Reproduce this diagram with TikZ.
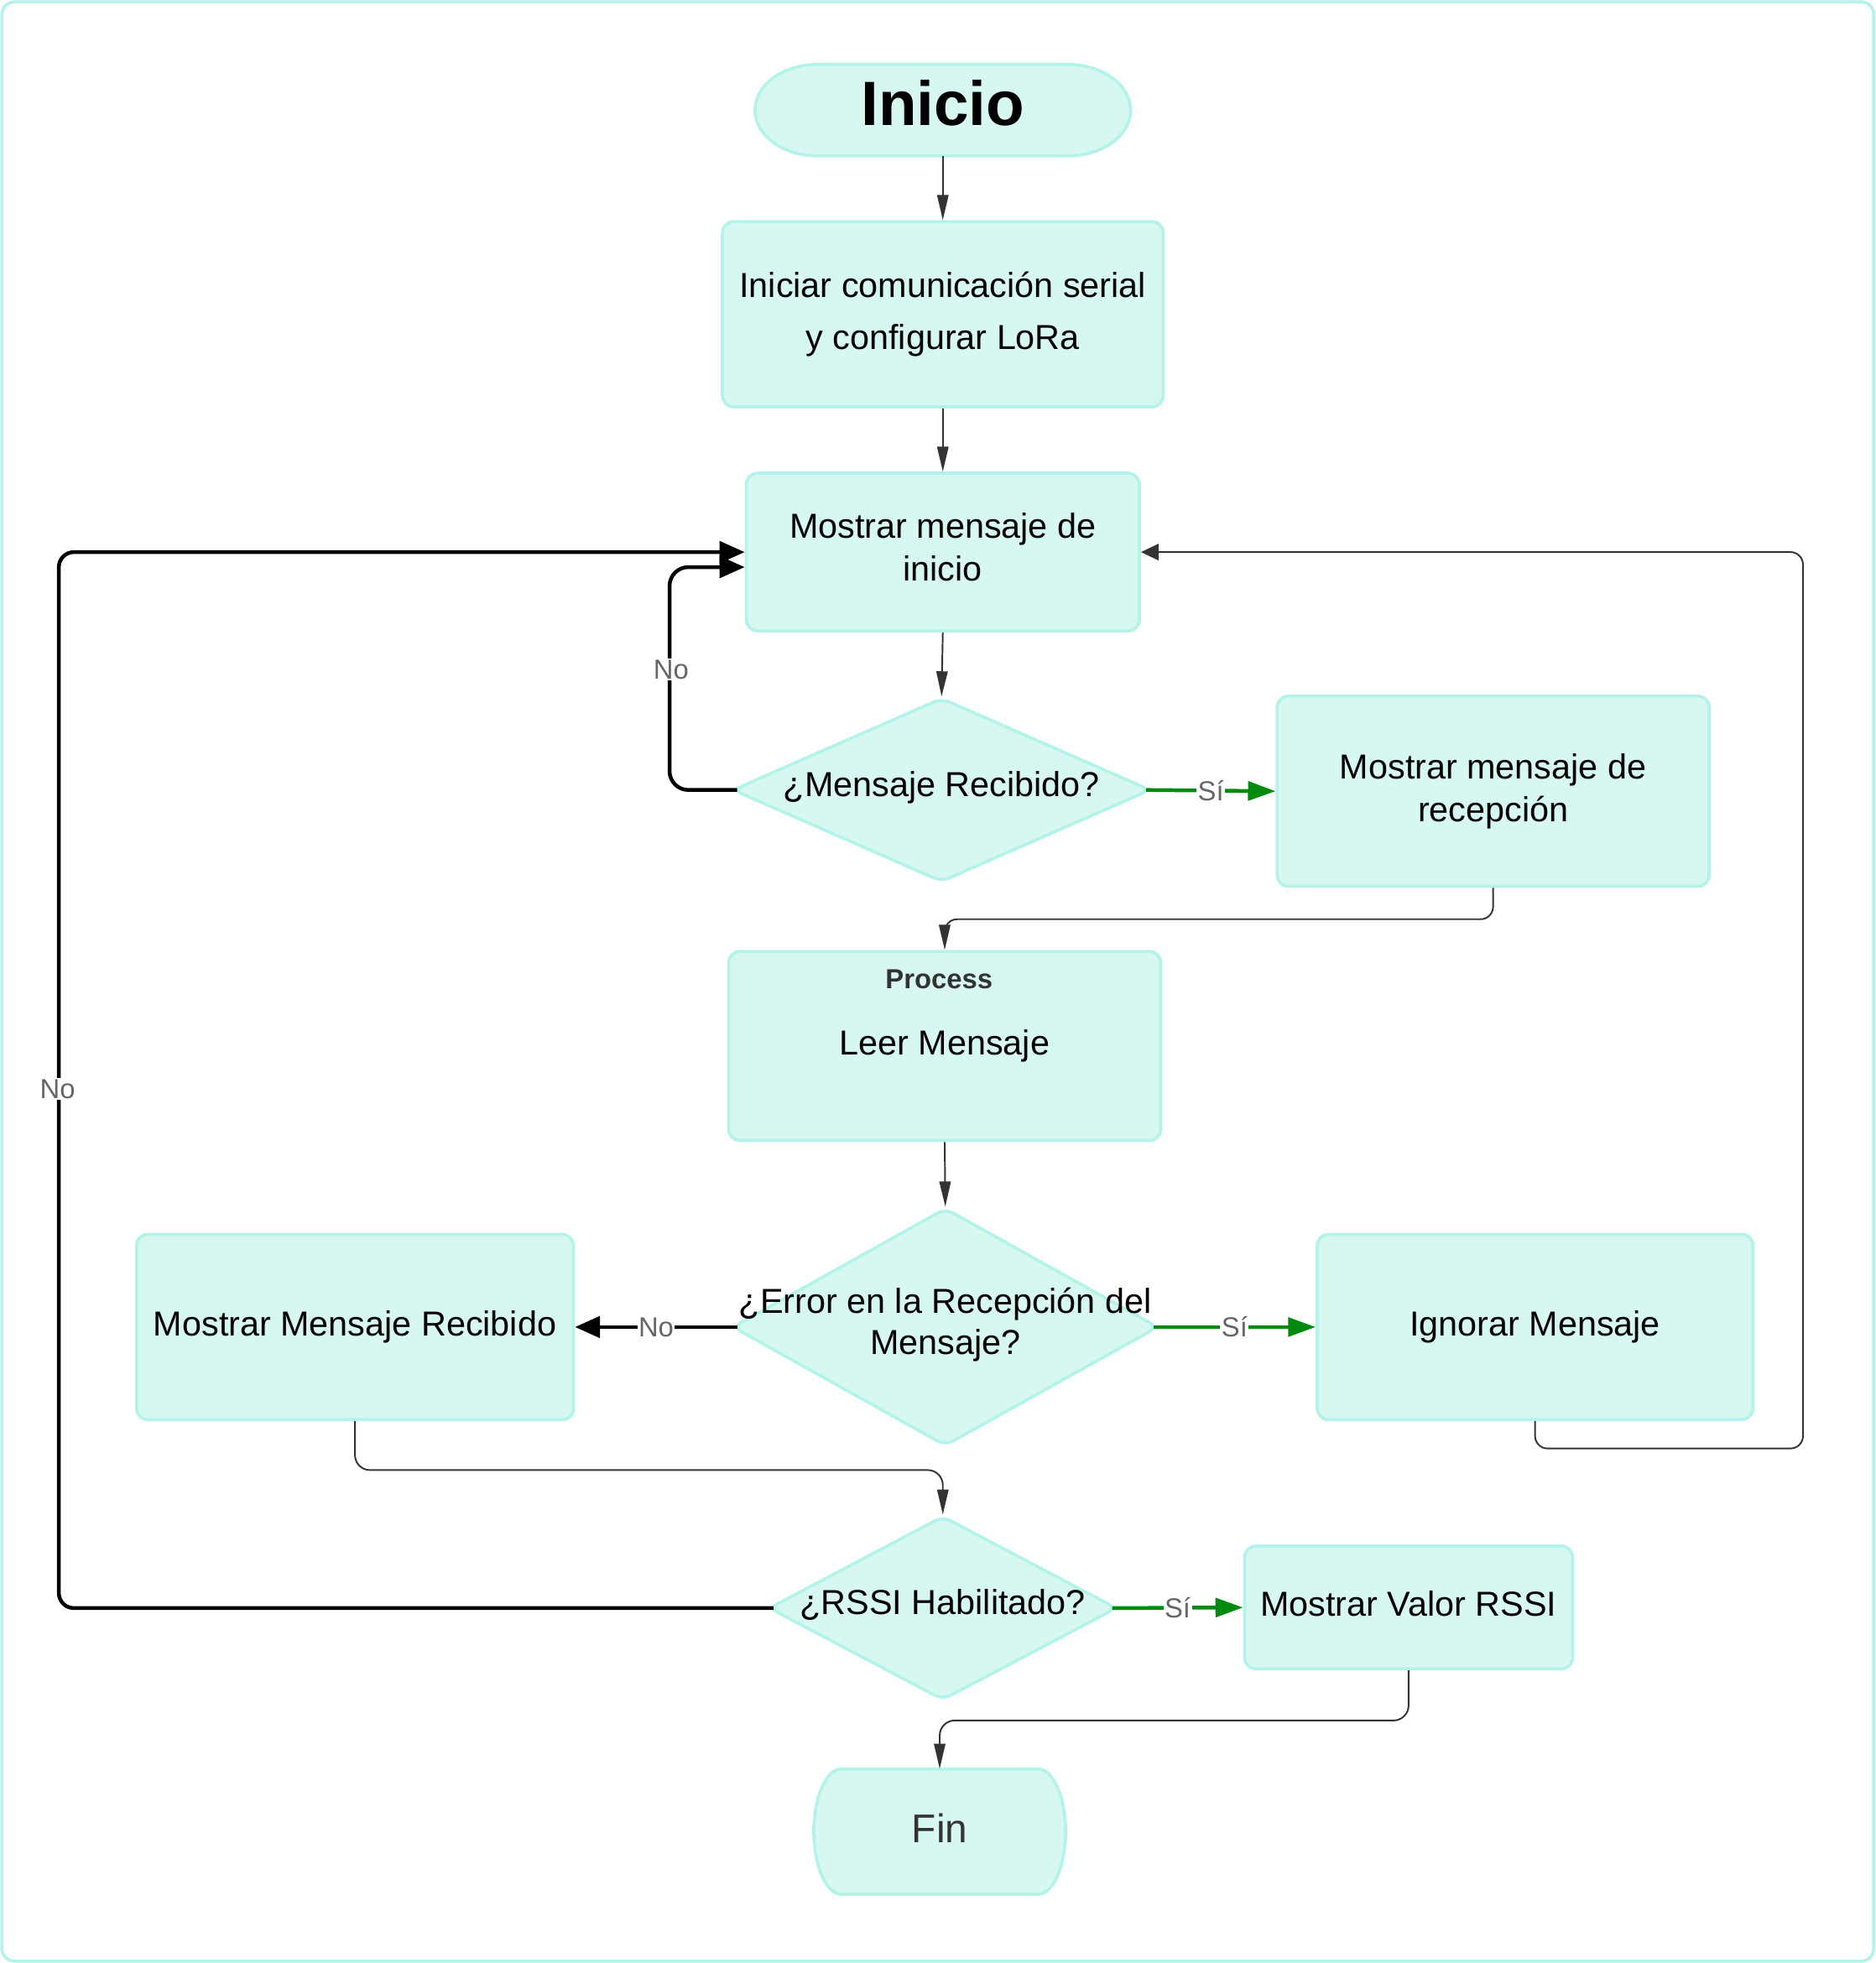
\documentclass[tikz,border=0pt]{standalone}
\usepackage{fontspec}
\setmainfont{Liberation Sans}
\usetikzlibrary{arrows.meta,shapes.geometric,calc}
\definecolor{nfill}{RGB}{214,248,241}
\definecolor{nstroke}{RGB}{180,243,233}
\definecolor{lgreen}{RGB}{0,138,14}
\definecolor{ldark}{RGB}{51,51,51}
\definecolor{lgray}{RGB}{102,102,102}
\tikzset{
  box/.style={draw=nstroke, fill=nfill, line width=2.5pt, rounded corners=9pt,
    align=center, inner sep=0pt, font=\fontsize{27.7}{34}\selectfont},
  dia/.style={draw=nstroke, fill=nfill, line width=2.5pt, shape=diamond,
    rounded corners=7pt, inner sep=0pt},
  diatext/.style={align=center, inner sep=0pt, font=\fontsize{27.7}{33}\selectfont},
  termshape/.style={draw=nstroke, fill=nfill, line width=2.5pt},
  termnode/.style={draw=none, fill=none, inner sep=0pt},
  thinarrow/.style={draw=ldark, line width=1.3pt, -{Triangle[length=20pt,width=9pt]}},
  backarrow/.style={draw=ldark, line width=1.3pt, -{Triangle[length=14pt,width=13pt]}},
  thickarrow/.style={draw=black, line width=3pt, -{Triangle[length=20pt,width=17pt]}},
  greenarrow/.style={draw=lgreen, line width=3pt, -{Triangle[length=22pt,width=15pt]}},
  lbl/.style={fill=white, text=lgray, inner sep=1pt, font=\fontsize{22}{24}\selectfont},
}
\begin{document}
\begin{tikzpicture}[x=1pt,y=-1pt]
\useasboundingbox (0,0) rectangle (1498,1568);
\draw[nstroke, line width=2.5pt, rounded corners=10pt] (1.5,1.5) rectangle (1496.5,1566.5);

% Inicio terminal
\path[termshape] (653,51.5) -- (853,51.5)
  arc[start angle=90,end angle=-90,x radius=50pt,y radius=36.5pt]
  -- (653,124.5)
  arc[start angle=270,end angle=90,x radius=50pt,y radius=36.5pt] -- cycle;
\node[termnode, minimum width=300pt, minimum height=73pt] (ini) at (753,88) {};
\node[inner sep=0pt, font=\fontsize{50}{60}\selectfont\bfseries] (init) at (753,82) {Inicio};

% boxes
\node[box, minimum width=352pt, minimum height=148pt, font=\fontsize{27.7}{41}\selectfont]
  (b1) at (753,251) {Iniciar comunicación serial\\y configurar LoRa};
\node[box, minimum width=314pt, minimum height=126pt] (b2) at (753,441) {};
\node[align=center, inner sep=0pt, font=\fontsize{27.7}{34}\selectfont] (b2t) at (753,437) {Mostrar mensaje de\\inicio};
\node[dia, minimum width=334pt, minimum height=147pt] (d1) at (752,631) {};
\node[diatext] (d1t) at (752,629) {¿Mensaje Recibido?};
\node[box, minimum width=345pt, minimum height=152pt] (b3) at (1192.5,632) {Mostrar mensaje de\\recepción};
\node[box, minimum width=345pt, minimum height=151pt] (b4) at (754.5,835.5) {Leer Mensaje};
\node[text=ldark, inner sep=0pt, font=\fontsize{22}{26}\selectfont\bfseries] (b4h) at (750,782) {Process};
\node[dia, minimum width=340pt, minimum height=190pt] (d2) at (755,1060) {};
\node[diatext] (d2t) at (755,1058) {¿Error en la Recepción del\\Mensaje?};
\node[box, minimum width=349pt, minimum height=148pt] (b5) at (283.5,1060) {Mostrar Mensaje Recibido};
\node[box, minimum width=348pt, minimum height=148pt] (b6) at (1226,1060) {Ignorar Mensaje};
\node[dia, minimum width=278pt, minimum height=147pt] (d3) at (753,1284.5) {};
\node[diatext] (d3t) at (753,1282) {¿RSSI Habilitado?};
\node[box, minimum width=262pt, minimum height=98pt] (b7) at (1125,1284) {};
\node[inner sep=0pt, font=\fontsize{27.7}{34}\selectfont] (b7t) at (1125,1281) {Mostrar Valor RSSI};

% Fin terminal
\path[termshape] (672,1413) -- (829,1413)
  arc[start angle=90,end angle=-90,x radius=22pt,y radius=50pt]
  -- (672,1513)
  arc[start angle=270,end angle=90,x radius=22pt,y radius=50pt] -- cycle;
\node[termnode, minimum width=201pt, minimum height=100pt] (fin) at (750.5,1463) {};
\node[inner sep=0pt, text=ldark, font=\fontsize{32}{36}\selectfont] (fint) at (750.5,1460) {Fin};

% helper coordinates
\coordinate (lft) at (47,441);
\coordinate (rgt) at (1440,1157);

% connectors
\draw[thinarrow] (ini.south) -- (b1.north);
\draw[thinarrow] (b1.south) -- (b2.north);
\draw[thinarrow] (b2.south) -- (d1.north);
\draw[greenarrow] ([xshift=-5pt]d1.east) -- node[lbl] {Sí} (b3.west);
\draw[thickarrow, rounded corners=15pt] ([xshift=5pt]d1.west) -- ++(-54,0) |- ([yshift=-12pt]b2.west);
\node[lbl] at (536,535) {No};
\draw[thinarrow, rounded corners=10pt] (b3.south) -- ++(0,25) -| (b4.north);
\draw[thinarrow] (b4.south) -- (d2.north);
\draw[thickarrow] ([xshift=5pt]d2.west) -- node[lbl] {No} (b5.east);
\draw[greenarrow] ([xshift=-5pt]d2.east) -- node[lbl] {Sí} (b6.west);
\draw[backarrow, rounded corners=10pt] (b6.south) |- (rgt) |- (b2.east);
\draw[thinarrow, rounded corners=12pt] (b5.south) -- ++(0,39) -| (d3.north);
\draw[greenarrow] ([xshift=-5pt]d3.east) -- node[lbl] {Sí} (b7.west);
\draw[thickarrow, rounded corners=12pt] ([xshift=5pt]d3.west) -| (lft) -- (b2.west);
\node[lbl] at (46,870) {No};
\draw[thinarrow, rounded corners=12pt] (b7.south) -- ++(0,40) -| (fin.north);
\end{tikzpicture}
\end{document}
